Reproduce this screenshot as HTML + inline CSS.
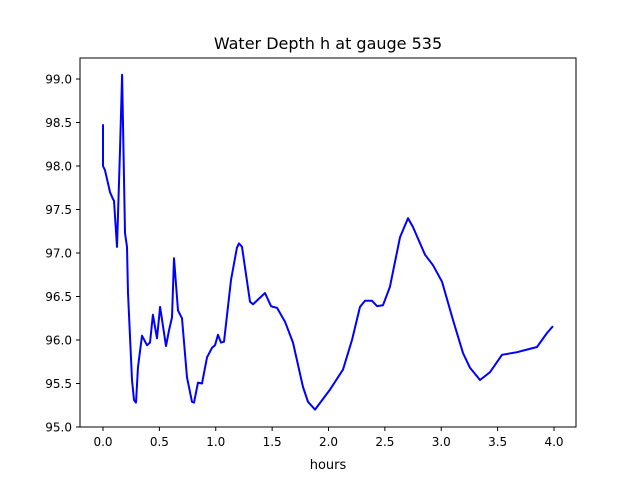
<!DOCTYPE html>
<html><head><meta charset="utf-8"><style>
body{margin:0;background:#fff;}
svg{display:block;font-family:"DejaVu Sans","Liberation Sans",sans-serif;}
</style></head><body>
<svg id="chart" width="640" height="480">
<rect width="640" height="480" fill="#fff"/>
<text x="328" y="49" text-anchor="middle" font-size="16">Water Depth h at gauge 535</text>
<g id="ticks"></g>
<path id="line" fill="none" stroke="#0000ff" stroke-width="2" stroke-linejoin="round"/>
<rect x="80" y="58" width="496" height="369" fill="none" stroke="#000" stroke-width="1"/>
<text x="328" y="469" text-anchor="middle" font-size="13">hours</text>
</svg>
<script>
const hours=[0,0,0.018,0.062,0.089,0.098,0.124,0.151,0.169,0.195,0.213,0.222,0.257,0.275,0.293,0.310,0.346,0.390,0.417,0.443,0.479,0.506,0.559,0.585,0.612,0.630,0.665,0.701,0.745,0.789,0.807,0.843,0.878,0.922,0.967,0.993,1.020,1.047,1.073,1.135,1.188,1.206,1.233,1.304,1.330,1.437,1.490,1.508,1.543,1.614,1.685,1.774,1.818,1.880,2.013,2.129,2.208,2.279,2.324,2.386,2.430,2.483,2.545,2.634,2.705,2.749,2.856,2.927,3.007,3.104,3.193,3.255,3.344,3.432,3.539,3.672,3.760,3.849,3.938,3.991];
const depth=[98.48,98.0,97.95,97.7,97.62,97.6,97.07,98.18,99.05,97.23,97.07,96.54,95.54,95.31,95.28,95.69,96.05,95.94,95.97,96.29,96.02,96.38,95.93,96.11,96.26,96.94,96.34,96.25,95.57,95.29,95.28,95.51,95.50,95.80,95.91,95.94,96.06,95.97,95.98,96.69,97.06,97.11,97.07,96.44,96.41,96.54,96.39,96.38,96.37,96.21,95.97,95.46,95.29,95.20,95.43,95.66,96.0,96.38,96.45,96.45,96.39,96.40,96.61,97.18,97.40,97.30,96.98,96.86,96.67,96.23,95.85,95.68,95.54,95.63,95.83,95.86,95.89,95.92,96.08,96.16];
const xTicks=["0.0","0.5","1.0","1.5","2.0","2.5","3.0","3.5","4.0"];
const yTicks=["95.0","95.5","96.0","96.5","97.0","97.5","98.0","98.5","99.0"];
const X=v=>103+(v-0)*112.75;
const Y=v=>427-(v-95)*87;
const ns="http://www.w3.org/2000/svg";
const g=document.getElementById('ticks');
function el(tag,attrs){const e=document.createElementNS(ns,tag);for(const k in attrs)e.setAttribute(k,attrs[k]);g.appendChild(e);return e;}
xTicks.forEach(t=>{const x=X(parseFloat(t));
 const l=el('line',{x1:x,x2:x,y1:427,y2:431,stroke:'#000'});
 
 
 const tx=el('text',{x:x,y:446,'text-anchor':'middle','font-size':'12'});tx.textContent=t;
 
 
});
yTicks.forEach(t=>{const y=Y(parseFloat(t));
 const l=el('line',{x1:76,x2:80,y1:y,y2:y,stroke:'#000'});
 
 
 const tx=el('text',{x:72,y:y+4.5,'text-anchor':'end','font-size':'12'});tx.textContent=t;
 
 
});
document.getElementById('line').setAttribute('d',hours.map((h,i)=>(i?'L':'M')+X(h).toFixed(1)+','+Y(depth[i]).toFixed(1)).join(''));
</script>
</body></html>
